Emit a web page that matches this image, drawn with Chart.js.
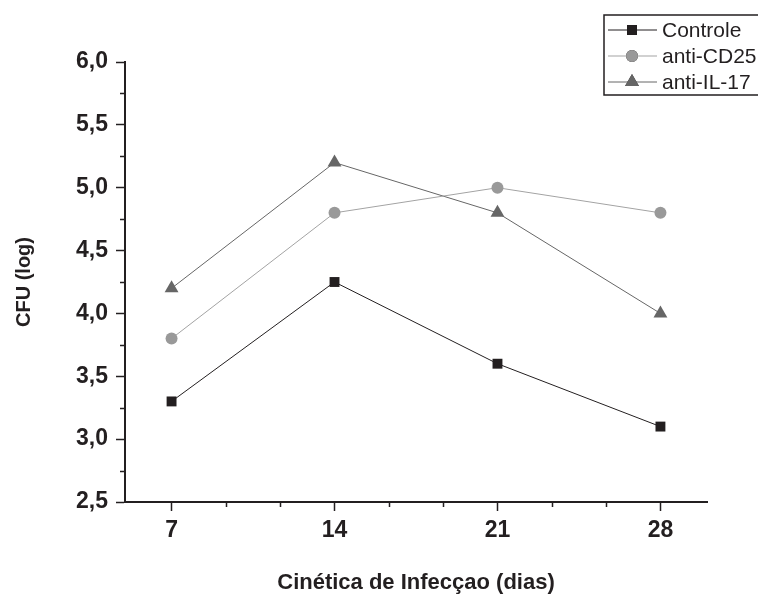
<!DOCTYPE html>
<html>
<head>
<meta charset="utf-8">
<script src="https://cdn.jsdelivr.net/npm/chart.js@4"></script>
<style>
  html, body { margin: 0; padding: 0; background: #fff; }
  #wrap { width: 758px; height: 597px; position: relative; }
</style>
</head>
<body>
<div id="wrap"><canvas id="chart"></canvas></div>
<script>
// Days after infection
const days = [7, 14, 21, 28];

// CFU (log) per group
const controle = [3.3, 4.25, 3.6, 3.1];
const antiCD25 = [3.8, 4.8, 5.0, 4.8];
const antiIL17 = [4.2, 5.2, 4.8, 4.0];

// Axis ticks
const xTicks = [7, 14, 21, 28];
const xMinor = [9.333, 11.667, 16.333, 18.667, 23.333, 25.667];
const yMinor = [2.75, 3.25, 3.75, 4.25, 4.75, 5.25, 5.75];

const FONT = "'Liberation Sans', Arial, sans-serif";
const INK = "#231f20";

const toPoints = (vals) => vals.map((v, i) => ({ x: days[i], y: v }));

// minor ticks (shorter) on both axes
const minorTicks = {
  id: "minorTicks",
  afterDraw(chart) {
    const { ctx, scales } = chart;
    const xs = scales.x, ys = scales.y;
    ctx.save();
    ctx.strokeStyle = INK;
    ctx.lineWidth = 1.5;
    ctx.beginPath();
    yMinor.forEach((v) => {
      const py = Math.round(ys.getPixelForValue(v)) + 0.5;
      ctx.moveTo(xs.left - 5, py);
      ctx.lineTo(xs.left, py);
    });
    xMinor.forEach((v) => {
      const px = Math.round(xs.getPixelForValue(v)) + 0.5;
      ctx.moveTo(px, ys.bottom);
      ctx.lineTo(px, ys.bottom + 5);
    });
    ctx.stroke();
    ctx.restore();
  },
};

// legend box: line + marker + label (box runs off the right edge)
const boxLegend = {
  id: "boxLegend",
  afterDraw(chart) {
    const { ctx } = chart;
    const x0 = 604, y0 = 15, rowH = 26, right = chart.width + 10;
    ctx.save();
    ctx.strokeStyle = INK;
    ctx.lineWidth = 1.5;
    ctx.beginPath();
    ctx.moveTo(right, y0);
    ctx.lineTo(x0, y0);
    ctx.lineTo(x0, y0 + 80);
    ctx.lineTo(right, y0 + 80);
    ctx.stroke();
    chart.data.datasets.forEach((ds, i) => {
      const cy = y0 + 15 + i * rowH;
      ctx.strokeStyle = ds.borderColor;
      ctx.lineWidth = 1;
      ctx.beginPath();
      ctx.moveTo(x0 + 4, cy);
      ctx.lineTo(x0 + 53, cy);
      ctx.stroke();
      Chart.helpers.drawPoint(ctx, {
        pointStyle: ds.pointStyle,
        radius: ds.pointRadius,
        borderWidth: 0,
      }, x0 + 28, cy);
      ctx.fillStyle = ds.pointBackgroundColor;
      ctx.fill();
      ctx.fillStyle = INK;
      ctx.font = "21px " + FONT;
      ctx.textBaseline = "middle";
      ctx.fillText(ds.label, x0 + 58, cy + 1);
    });
    ctx.restore();
  },
};

new Chart(document.getElementById("chart"), {
  type: "line",
  data: {
    datasets: [
      {
        label: "Controle",
        data: toPoints(controle),
        borderColor: INK,
        borderWidth: 1,
        pointStyle: "rect",
        pointRadius: 7,
        pointBackgroundColor: INK,
        pointBorderWidth: 0,
      },
      {
        label: "anti-CD25",
        data: toPoints(antiCD25),
        borderColor: "#a3a3a3",
        borderWidth: 1,
        pointStyle: "circle",
        pointRadius: 6,
        pointBackgroundColor: "#999999",
        pointBorderWidth: 0,
      },
      {
        label: "anti-IL-17",
        data: toPoints(antiIL17),
        borderColor: "#666666",
        borderWidth: 1,
        pointStyle: "triangle",
        pointRadius: 8,
        pointBackgroundColor: "#666666",
        pointBorderWidth: 0,
      },
    ],
  },
  options: {
    responsive: true,
    maintainAspectRatio: false,
    animation: false,
    layout: { padding: { top: 62, right: 51, left: 0, bottom: 0 } },
    plugins: {
      legend: { display: false },
      tooltip: { enabled: false },
    },
    scales: {
      x: {
        type: "linear",
        min: 5,
        max: 30,
        afterBuildTicks: (scale) => {
          scale.ticks = xTicks.map((v) => ({ value: v }));
        },
        afterFit: (scale) => { scale.height = 95; },
        border: { color: INK, width: 2 },
        grid: { drawOnChartArea: false, tickLength: 9, tickColor: INK, tickWidth: 1.5 },
        ticks: {
          color: INK,
          padding: 6,
          maxRotation: 0,
          font: { family: FONT, size: 23, weight: "bold" },
        },
        title: {
          display: true,
          text: "Cinética de Infecçao (dias)",
          color: INK,
          padding: { bottom: 1 },
          font: { family: FONT, size: 22, weight: "bold" },
        },
      },
      y: {
        min: 2.5,
        max: 6,
        afterBuildTicks: (scale) => {
          const t = [];
          for (let v = 2.5; v <= 6.001; v += 0.5) t.push({ value: +v.toFixed(1) });
          scale.ticks = t;
        },
        afterFit: (scale) => { scale.width = 125; },
        border: { color: INK, width: 2 },
        grid: { drawOnChartArea: false, tickLength: 9, tickColor: INK, tickWidth: 1.5 },
        ticks: {
          color: INK,
          padding: 8,
          font: { family: FONT, size: 23, weight: "bold" },
          callback: (v) => v.toFixed(1).replace(".", ","),
        },
        title: {
          display: true,
          text: "CFU (log)",
          color: INK,
          padding: { top: 12 },
          font: { family: FONT, size: 20, weight: "bold" },
        },
      },
    },
  },
  plugins: [minorTicks, boxLegend],
});
</script>
</body>
</html>
